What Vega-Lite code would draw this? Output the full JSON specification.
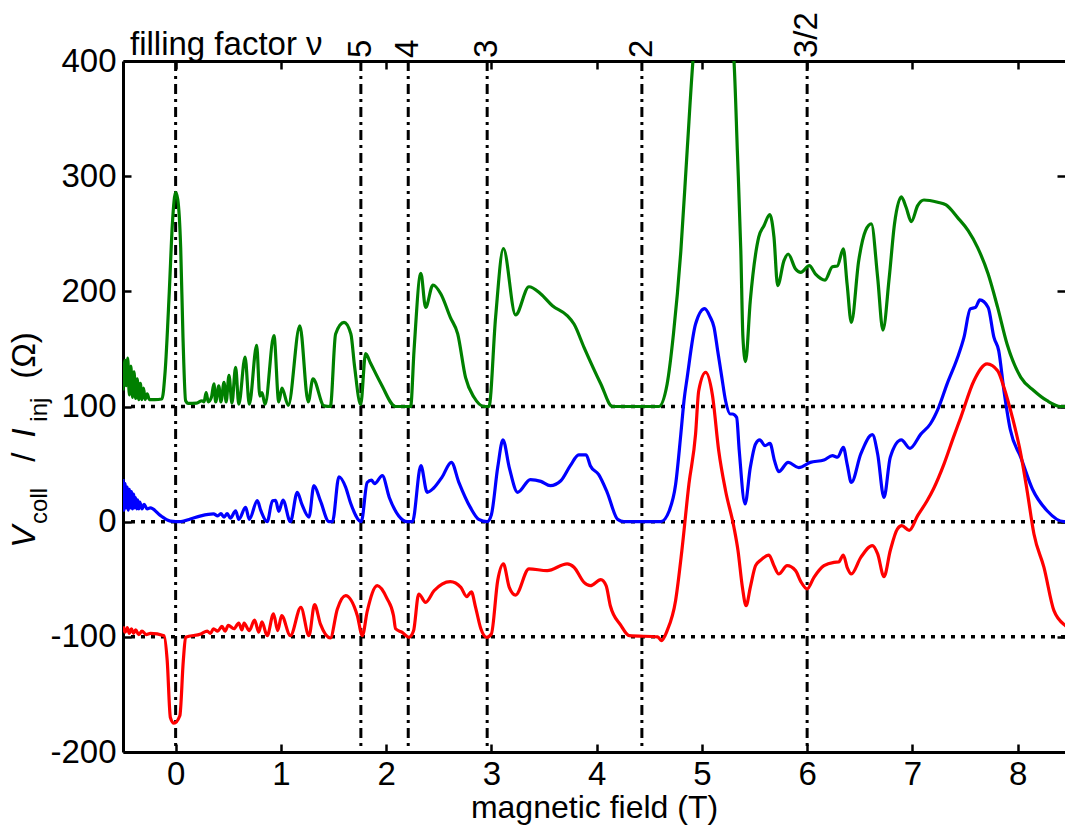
{
  "$schema": "https://vega.github.io/schema/vega-lite/v6.json",
  "width": 942,
  "height": 691,
  "autosize": {"type": "none"},
  "padding": {"left": 123, "top": 61, "right": 0, "bottom": 74},
  "background": "white",
  "config": {
    "view": {"stroke": null},
    "font": "Liberation Sans",
    "axis": {"grid": false, "domainColor": "black", "domainWidth": 3, "tickColor": "black", "tickWidth": 2.5, "tickSize": -8, "labelColor": "black", "labelFont": "Liberation Sans", "labelFontSize": 33, "titleFont": "Liberation Sans", "titleColor": "black", "titleFontWeight": "normal", "titleFontSize": 32}
  },
  "datasets": {
    "curves": [
      {"x": -0.50, "y": 114, "s": "g"}, {"x": -0.48, "y": 140, "s": "g"}, {"x": -0.47, "y": 118, "s": "g"}, {"x": -0.455, "y": 142, "s": "g"}, {"x": -0.44, "y": 110, "s": "g"}, {"x": -0.425, "y": 135, "s": "g"}, {"x": -0.41, "y": 108, "s": "g"}, {"x": -0.395, "y": 130, "s": "g"}, {"x": -0.38, "y": 107, "s": "g"}, {"x": -0.365, "y": 124, "s": "g"}, {"x": -0.35, "y": 106, "s": "g"}, {"x": -0.335, "y": 120, "s": "g"}, {"x": -0.32, "y": 106, "s": "g"}, {"x": -0.305, "y": 116, "s": "g"}, {"x": -0.29, "y": 106, "s": "g"}, {"x": -0.27, "y": 111, "s": "g"}, {"x": -0.25, "y": 106, "s": "g"}, {"x": -0.20, "y": 106, "s": "g"}, {"x": -0.13, "y": 106.5, "s": "g"}, {"x": -0.10, "y": 130, "s": "g"}, {"x": -0.06, "y": 200, "s": "g"}, {"x": -0.03, "y": 260, "s": "g"}, {"x": 0.0, "y": 286, "s": "g"}, {"x": 0.02, "y": 280, "s": "g"}, {"x": 0.048, "y": 238, "s": "g"}, {"x": 0.07, "y": 160, "s": "g"}, {"x": 0.095, "y": 105, "s": "g"}, {"x": 0.12, "y": 102.7, "s": "g"}, {"x": 0.2, "y": 103, "s": "g"}, {"x": 0.25, "y": 105, "s": "g"}, {"x": 0.27, "y": 104, "s": "g"}, {"x": 0.29, "y": 112, "s": "g"}, {"x": 0.31, "y": 104, "s": "g"}, {"x": 0.34, "y": 108, "s": "g"}, {"x": 0.364, "y": 119.6, "s": "g"}, {"x": 0.38, "y": 104, "s": "g"}, {"x": 0.41, "y": 118, "s": "g"}, {"x": 0.43, "y": 104, "s": "g"}, {"x": 0.46, "y": 121, "s": "g"}, {"x": 0.48, "y": 104, "s": "g"}, {"x": 0.507, "y": 127, "s": "g"}, {"x": 0.535, "y": 103, "s": "g"}, {"x": 0.57, "y": 134, "s": "g"}, {"x": 0.6, "y": 102, "s": "g"}, {"x": 0.66, "y": 143, "s": "g"}, {"x": 0.70, "y": 102, "s": "g"}, {"x": 0.77, "y": 153, "s": "g"}, {"x": 0.80, "y": 109, "s": "g"}, {"x": 0.82, "y": 112, "s": "g"}, {"x": 0.85, "y": 102, "s": "g"}, {"x": 0.934, "y": 161.5, "s": "g"}, {"x": 0.98, "y": 104, "s": "g"}, {"x": 1.01, "y": 116, "s": "g"}, {"x": 1.07, "y": 101, "s": "g"}, {"x": 1.18, "y": 170, "s": "g"}, {"x": 1.26, "y": 104, "s": "g"}, {"x": 1.305, "y": 124, "s": "g"}, {"x": 1.41, "y": 100.5, "s": "g"}, {"x": 1.47, "y": 100, "s": "g"}, {"x": 1.52, "y": 163, "s": "g"}, {"x": 1.60, "y": 173, "s": "g"}, {"x": 1.665, "y": 163, "s": "g"}, {"x": 1.70, "y": 135, "s": "g"}, {"x": 1.758, "y": 101.7, "s": "g"}, {"x": 1.805, "y": 146, "s": "g"}, {"x": 1.85, "y": 138, "s": "g"}, {"x": 1.95, "y": 120, "s": "g"}, {"x": 2.09, "y": 100, "s": "g"}, {"x": 2.233, "y": 100, "s": "g"}, {"x": 2.265, "y": 148.5, "s": "g"}, {"x": 2.33, "y": 215.6, "s": "g"}, {"x": 2.375, "y": 186, "s": "g"}, {"x": 2.445, "y": 205.5, "s": "g"}, {"x": 2.52, "y": 197.7, "s": "g"}, {"x": 2.61, "y": 177.4, "s": "g"}, {"x": 2.68, "y": 163, "s": "g"}, {"x": 2.755, "y": 125, "s": "g"}, {"x": 2.835, "y": 108, "s": "g"}, {"x": 2.93, "y": 100, "s": "g"}, {"x": 2.977, "y": 100, "s": "g"}, {"x": 3.04, "y": 177.4, "s": "g"}, {"x": 3.114, "y": 237, "s": "g"}, {"x": 3.23, "y": 179.5, "s": "g"}, {"x": 3.357, "y": 204, "s": "g"}, {"x": 3.47, "y": 197.7, "s": "g"}, {"x": 3.58, "y": 187.5, "s": "g"}, {"x": 3.72, "y": 178.9, "s": "g"}, {"x": 3.785, "y": 171.6, "s": "g"}, {"x": 3.88, "y": 151.4, "s": "g"}, {"x": 4.04, "y": 119.6, "s": "g"}, {"x": 4.15, "y": 100, "s": "g"}, {"x": 4.59, "y": 100, "s": "g"}, {"x": 4.67, "y": 119.6, "s": "g"}, {"x": 4.73, "y": 163, "s": "g"}, {"x": 4.8, "y": 235, "s": "g"}, {"x": 4.86, "y": 322, "s": "g"}, {"x": 4.915, "y": 400, "s": "g"}, {"x": 5.0, "y": 470, "s": "g"}, {"x": 5.2, "y": 480, "s": "g"}, {"x": 5.305, "y": 400, "s": "g"}, {"x": 5.337, "y": 322, "s": "g"}, {"x": 5.37, "y": 235, "s": "g"}, {"x": 5.39, "y": 160, "s": "g"}, {"x": 5.415, "y": 139, "s": "g"}, {"x": 5.46, "y": 192, "s": "g"}, {"x": 5.54, "y": 247, "s": "g"}, {"x": 5.59, "y": 257, "s": "g"}, {"x": 5.645, "y": 266.6, "s": "g"}, {"x": 5.685, "y": 247, "s": "g"}, {"x": 5.72, "y": 205, "s": "g"}, {"x": 5.78, "y": 226.6, "s": "g"}, {"x": 5.82, "y": 232.4, "s": "g"}, {"x": 5.89, "y": 219.4, "s": "g"}, {"x": 5.94, "y": 216.5, "s": "g"}, {"x": 6.02, "y": 222.3, "s": "g"}, {"x": 6.08, "y": 215, "s": "g"}, {"x": 6.17, "y": 209.8, "s": "g"}, {"x": 6.24, "y": 221.4, "s": "g"}, {"x": 6.287, "y": 222, "s": "g"}, {"x": 6.344, "y": 236.8, "s": "g"}, {"x": 6.38, "y": 206, "s": "g"}, {"x": 6.42, "y": 173, "s": "g"}, {"x": 6.49, "y": 226.6, "s": "g"}, {"x": 6.555, "y": 252.7, "s": "g"}, {"x": 6.61, "y": 258.5, "s": "g"}, {"x": 6.67, "y": 212, "s": "g"}, {"x": 6.72, "y": 166.4, "s": "g"}, {"x": 6.78, "y": 212, "s": "g"}, {"x": 6.83, "y": 258.5, "s": "g"}, {"x": 6.895, "y": 282, "s": "g"}, {"x": 6.94, "y": 273, "s": "g"}, {"x": 6.99, "y": 260.5, "s": "g"}, {"x": 7.05, "y": 274.4, "s": "g"}, {"x": 7.11, "y": 279.3, "s": "g"}, {"x": 7.24, "y": 277.3, "s": "g"}, {"x": 7.32, "y": 275, "s": "g"}, {"x": 7.43, "y": 264, "s": "g"}, {"x": 7.53, "y": 252.7, "s": "g"}, {"x": 7.62, "y": 238, "s": "g"}, {"x": 7.72, "y": 215, "s": "g"}, {"x": 7.81, "y": 186, "s": "g"}, {"x": 7.9, "y": 154, "s": "g"}, {"x": 8.03, "y": 125.3, "s": "g"}, {"x": 8.155, "y": 113.7, "s": "g"}, {"x": 8.28, "y": 105, "s": "g"}, {"x": 8.41, "y": 100, "s": "g"}, {"x": 8.5, "y": 100, "s": "g"},

      {"x": -0.50, "y": 37, "s": "b"}, {"x": -0.49, "y": 10, "s": "b"}, {"x": -0.48, "y": 33, "s": "b"}, {"x": -0.47, "y": 12, "s": "b"}, {"x": -0.46, "y": 30, "s": "b"}, {"x": -0.45, "y": 10, "s": "b"}, {"x": -0.44, "y": 28, "s": "b"}, {"x": -0.43, "y": 12, "s": "b"}, {"x": -0.42, "y": 26, "s": "b"}, {"x": -0.41, "y": 11, "s": "b"}, {"x": -0.40, "y": 24, "s": "b"}, {"x": -0.39, "y": 12, "s": "b"}, {"x": -0.38, "y": 21, "s": "b"}, {"x": -0.37, "y": 11, "s": "b"}, {"x": -0.36, "y": 19, "s": "b"}, {"x": -0.35, "y": 11, "s": "b"}, {"x": -0.34, "y": 17, "s": "b"}, {"x": -0.32, "y": 11, "s": "b"}, {"x": -0.30, "y": 15, "s": "b"}, {"x": -0.27, "y": 11, "s": "b"}, {"x": -0.24, "y": 12, "s": "b"}, {"x": -0.14, "y": 5, "s": "b"}, {"x": -0.05, "y": 0.5, "s": "b"}, {"x": 0.05, "y": 0, "s": "b"}, {"x": 0.14, "y": 2.3, "s": "b"}, {"x": 0.24, "y": 5, "s": "b"}, {"x": 0.36, "y": 6.7, "s": "b"}, {"x": 0.40, "y": 5, "s": "b"}, {"x": 0.43, "y": 7, "s": "b"}, {"x": 0.46, "y": 4, "s": "b"}, {"x": 0.49, "y": 7, "s": "b"}, {"x": 0.52, "y": 3, "s": "b"}, {"x": 0.57, "y": 9.5, "s": "b"}, {"x": 0.60, "y": 2, "s": "b"}, {"x": 0.665, "y": 12.4, "s": "b"}, {"x": 0.70, "y": 2, "s": "b"}, {"x": 0.776, "y": 18.2, "s": "b"}, {"x": 0.81, "y": 9.5, "s": "b"}, {"x": 0.87, "y": 0, "s": "b"}, {"x": 0.92, "y": 18.2, "s": "b"}, {"x": 0.95, "y": 18.5, "s": "b"}, {"x": 0.98, "y": 9, "s": "b"}, {"x": 1.02, "y": 18.8, "s": "b"}, {"x": 1.09, "y": 0, "s": "b"}, {"x": 1.156, "y": 25.5, "s": "b"}, {"x": 1.2, "y": 15, "s": "b"}, {"x": 1.267, "y": 4, "s": "b"}, {"x": 1.314, "y": 31.3, "s": "b"}, {"x": 1.376, "y": 18, "s": "b"}, {"x": 1.457, "y": 0, "s": "b"}, {"x": 1.49, "y": 0, "s": "b"}, {"x": 1.552, "y": 39, "s": "b"}, {"x": 1.615, "y": 30, "s": "b"}, {"x": 1.663, "y": 16, "s": "b"}, {"x": 1.764, "y": 0, "s": "b"}, {"x": 1.82, "y": 34, "s": "b"}, {"x": 1.86, "y": 36, "s": "b"}, {"x": 1.89, "y": 33, "s": "b"}, {"x": 1.964, "y": 40, "s": "b"}, {"x": 2.03, "y": 21, "s": "b"}, {"x": 2.12, "y": 5, "s": "b"}, {"x": 2.2, "y": 0, "s": "b"}, {"x": 2.25, "y": 0, "s": "b"}, {"x": 2.33, "y": 48.6, "s": "b"}, {"x": 2.39, "y": 25.5, "s": "b"}, {"x": 2.45, "y": 29, "s": "b"}, {"x": 2.53, "y": 38.5, "s": "b"}, {"x": 2.62, "y": 51.5, "s": "b"}, {"x": 2.69, "y": 34.4, "s": "b"}, {"x": 2.8, "y": 12.4, "s": "b"}, {"x": 2.88, "y": 2, "s": "b"}, {"x": 2.96, "y": 0, "s": "b"}, {"x": 3.0, "y": 6, "s": "b"}, {"x": 3.06, "y": 47, "s": "b"}, {"x": 3.11, "y": 71, "s": "b"}, {"x": 3.17, "y": 47, "s": "b"}, {"x": 3.25, "y": 25.5, "s": "b"}, {"x": 3.37, "y": 36.5, "s": "b"}, {"x": 3.47, "y": 35, "s": "b"}, {"x": 3.56, "y": 31.3, "s": "b"}, {"x": 3.66, "y": 35.5, "s": "b"}, {"x": 3.75, "y": 48.6, "s": "b"}, {"x": 3.83, "y": 58, "s": "b"}, {"x": 3.9, "y": 58, "s": "b"}, {"x": 3.94, "y": 48.6, "s": "b"}, {"x": 4.02, "y": 40.8, "s": "b"}, {"x": 4.1, "y": 25.5, "s": "b"}, {"x": 4.2, "y": 2, "s": "b"}, {"x": 4.26, "y": 0, "s": "b"}, {"x": 4.61, "y": 0, "s": "b"}, {"x": 4.69, "y": 9.5, "s": "b"}, {"x": 4.75, "y": 32, "s": "b"}, {"x": 4.8, "y": 76, "s": "b"}, {"x": 4.83, "y": 105, "s": "b"}, {"x": 4.86, "y": 125, "s": "b"}, {"x": 4.94, "y": 171.6, "s": "b"}, {"x": 5.026, "y": 185, "s": "b"}, {"x": 5.08, "y": 177.5, "s": "b"}, {"x": 5.115, "y": 169, "s": "b"}, {"x": 5.15, "y": 148.5, "s": "b"}, {"x": 5.19, "y": 125, "s": "b"}, {"x": 5.225, "y": 105, "s": "b"}, {"x": 5.27, "y": 93.5, "s": "b"}, {"x": 5.29, "y": 93.5, "s": "b"}, {"x": 5.33, "y": 90.6, "s": "b"}, {"x": 5.355, "y": 61.6, "s": "b"}, {"x": 5.41, "y": 15.4, "s": "b"}, {"x": 5.46, "y": 47, "s": "b"}, {"x": 5.51, "y": 67.5, "s": "b"}, {"x": 5.55, "y": 71, "s": "b"}, {"x": 5.6, "y": 66, "s": "b"}, {"x": 5.647, "y": 68, "s": "b"}, {"x": 5.69, "y": 53, "s": "b"}, {"x": 5.73, "y": 43.4, "s": "b"}, {"x": 5.82, "y": 51.5, "s": "b"}, {"x": 5.92, "y": 47, "s": "b"}, {"x": 6.03, "y": 51.5, "s": "b"}, {"x": 6.16, "y": 53.6, "s": "b"}, {"x": 6.24, "y": 57.3, "s": "b"}, {"x": 6.29, "y": 56, "s": "b"}, {"x": 6.344, "y": 64.5, "s": "b"}, {"x": 6.38, "y": 50, "s": "b"}, {"x": 6.42, "y": 34, "s": "b"}, {"x": 6.51, "y": 58.8, "s": "b"}, {"x": 6.62, "y": 75.5, "s": "b"}, {"x": 6.67, "y": 58.8, "s": "b"}, {"x": 6.73, "y": 21, "s": "b"}, {"x": 6.79, "y": 56, "s": "b"}, {"x": 6.895, "y": 71, "s": "b"}, {"x": 6.977, "y": 63.7, "s": "b"}, {"x": 7.08, "y": 76, "s": "b"}, {"x": 7.17, "y": 84.8, "s": "b"}, {"x": 7.25, "y": 99.3, "s": "b"}, {"x": 7.33, "y": 119.6, "s": "b"}, {"x": 7.43, "y": 142.7, "s": "b"}, {"x": 7.49, "y": 160, "s": "b"}, {"x": 7.55, "y": 184.7, "s": "b"}, {"x": 7.6, "y": 186, "s": "b"}, {"x": 7.64, "y": 192.5, "s": "b"}, {"x": 7.72, "y": 186, "s": "b"}, {"x": 7.775, "y": 160, "s": "b"}, {"x": 7.82, "y": 148.5, "s": "b"}, {"x": 7.87, "y": 113.7, "s": "b"}, {"x": 7.93, "y": 80, "s": "b"}, {"x": 8.03, "y": 55.8, "s": "b"}, {"x": 8.14, "y": 28.4, "s": "b"}, {"x": 8.28, "y": 9.5, "s": "b"}, {"x": 8.44, "y": 0, "s": "b"}, {"x": 8.5, "y": 0, "s": "b"},

      {"x": -0.50, "y": -91, "s": "r"}, {"x": -0.48, "y": -96, "s": "r"}, {"x": -0.46, "y": -92, "s": "r"}, {"x": -0.44, "y": -97, "s": "r"}, {"x": -0.42, "y": -93, "s": "r"}, {"x": -0.40, "y": -97, "s": "r"}, {"x": -0.38, "y": -94, "s": "r"}, {"x": -0.35, "y": -98, "s": "r"}, {"x": -0.32, "y": -95, "s": "r"}, {"x": -0.28, "y": -98, "s": "r"}, {"x": -0.24, "y": -97, "s": "r"}, {"x": -0.11, "y": -99, "s": "r"}, {"x": -0.08, "y": -120.7, "s": "r"}, {"x": -0.05, "y": -170, "s": "r"}, {"x": -0.016, "y": -175, "s": "r"}, {"x": 0.04, "y": -168.5, "s": "r"}, {"x": 0.073, "y": -120.7, "s": "r"}, {"x": 0.095, "y": -100.4, "s": "r"}, {"x": 0.24, "y": -97.5, "s": "r"}, {"x": 0.30, "y": -95, "s": "r"}, {"x": 0.33, "y": -97, "s": "r"}, {"x": 0.36, "y": -93, "s": "r"}, {"x": 0.40, "y": -95, "s": "r"}, {"x": 0.44, "y": -91, "s": "r"}, {"x": 0.47, "y": -95, "s": "r"}, {"x": 0.50, "y": -90, "s": "r"}, {"x": 0.554, "y": -93, "s": "r"}, {"x": 0.60, "y": -88, "s": "r"}, {"x": 0.63, "y": -94, "s": "r"}, {"x": 0.65, "y": -88, "s": "r"}, {"x": 0.70, "y": -94.6, "s": "r"}, {"x": 0.75, "y": -85.4, "s": "r"}, {"x": 0.79, "y": -96, "s": "r"}, {"x": 0.82, "y": -87, "s": "r"}, {"x": 0.87, "y": -99, "s": "r"}, {"x": 0.93, "y": -80, "s": "r"}, {"x": 0.97, "y": -94.6, "s": "r"}, {"x": 1.007, "y": -81.5, "s": "r"}, {"x": 1.09, "y": -99, "s": "r"}, {"x": 1.19, "y": -74.4, "s": "r"}, {"x": 1.267, "y": -99, "s": "r"}, {"x": 1.32, "y": -72, "s": "r"}, {"x": 1.376, "y": -89, "s": "r"}, {"x": 1.47, "y": -101, "s": "r"}, {"x": 1.536, "y": -76, "s": "r"}, {"x": 1.615, "y": -64.2, "s": "r"}, {"x": 1.726, "y": -81.5, "s": "r"}, {"x": 1.774, "y": -99, "s": "r"}, {"x": 1.82, "y": -78, "s": "r"}, {"x": 1.916, "y": -55.6, "s": "r"}, {"x": 2.01, "y": -67, "s": "r"}, {"x": 2.07, "y": -81.5, "s": "r"}, {"x": 2.09, "y": -93, "s": "r"}, {"x": 2.15, "y": -96, "s": "r"}, {"x": 2.217, "y": -100.4, "s": "r"}, {"x": 2.26, "y": -95, "s": "r"}, {"x": 2.31, "y": -62.8, "s": "r"}, {"x": 2.375, "y": -70, "s": "r"}, {"x": 2.455, "y": -60, "s": "r"}, {"x": 2.61, "y": -52, "s": "r"}, {"x": 2.71, "y": -57, "s": "r"}, {"x": 2.765, "y": -65, "s": "r"}, {"x": 2.81, "y": -61, "s": "r"}, {"x": 2.85, "y": -74.4, "s": "r"}, {"x": 2.9, "y": -93, "s": "r"}, {"x": 2.955, "y": -100.4, "s": "r"}, {"x": 3.0, "y": -97.5, "s": "r"}, {"x": 3.06, "y": -51.2, "s": "r"}, {"x": 3.114, "y": -36.7, "s": "r"}, {"x": 3.17, "y": -57, "s": "r"}, {"x": 3.23, "y": -63.7, "s": "r"}, {"x": 3.357, "y": -41, "s": "r"}, {"x": 3.53, "y": -42.5, "s": "r"}, {"x": 3.72, "y": -36.7, "s": "r"}, {"x": 3.785, "y": -39.6, "s": "r"}, {"x": 3.88, "y": -52.7, "s": "r"}, {"x": 3.94, "y": -55.6, "s": "r"}, {"x": 4.04, "y": -50.4, "s": "r"}, {"x": 4.09, "y": -55.6, "s": "r"}, {"x": 4.13, "y": -73, "s": "r"}, {"x": 4.23, "y": -90, "s": "r"}, {"x": 4.31, "y": -99, "s": "r"}, {"x": 4.58, "y": -100, "s": "r"}, {"x": 4.615, "y": -103.3, "s": "r"}, {"x": 4.67, "y": -94.6, "s": "r"}, {"x": 4.75, "y": -68.6, "s": "r"}, {"x": 4.81, "y": -25, "s": "r"}, {"x": 4.877, "y": 32.7, "s": "r"}, {"x": 4.94, "y": 76, "s": "r"}, {"x": 4.97, "y": 113.7, "s": "r"}, {"x": 5.036, "y": 129.6, "s": "r"}, {"x": 5.1, "y": 110, "s": "r"}, {"x": 5.16, "y": 61.6, "s": "r"}, {"x": 5.225, "y": 26.9, "s": "r"}, {"x": 5.305, "y": -5, "s": "r"}, {"x": 5.343, "y": -25, "s": "r"}, {"x": 5.385, "y": -57, "s": "r"}, {"x": 5.42, "y": -73, "s": "r"}, {"x": 5.46, "y": -57, "s": "r"}, {"x": 5.51, "y": -38.2, "s": "r"}, {"x": 5.56, "y": -33.3, "s": "r"}, {"x": 5.637, "y": -29, "s": "r"}, {"x": 5.685, "y": -38.2, "s": "r"}, {"x": 5.73, "y": -45.4, "s": "r"}, {"x": 5.81, "y": -38.2, "s": "r"}, {"x": 5.89, "y": -42.5, "s": "r"}, {"x": 5.94, "y": -52, "s": "r"}, {"x": 6.0, "y": -58.4, "s": "r"}, {"x": 6.065, "y": -48.3, "s": "r"}, {"x": 6.16, "y": -38.2, "s": "r"}, {"x": 6.255, "y": -35.3, "s": "r"}, {"x": 6.3, "y": -35, "s": "r"}, {"x": 6.344, "y": -29, "s": "r"}, {"x": 6.38, "y": -39.6, "s": "r"}, {"x": 6.42, "y": -45.4, "s": "r"}, {"x": 6.51, "y": -31, "s": "r"}, {"x": 6.62, "y": -20.8, "s": "r"}, {"x": 6.67, "y": -28, "s": "r"}, {"x": 6.73, "y": -47.7, "s": "r"}, {"x": 6.79, "y": -25, "s": "r"}, {"x": 6.857, "y": -6.4, "s": "r"}, {"x": 6.9, "y": -3.5, "s": "r"}, {"x": 6.97, "y": -7.5, "s": "r"}, {"x": 7.05, "y": 5.2, "s": "r"}, {"x": 7.14, "y": 18.2, "s": "r"}, {"x": 7.2, "y": 28.4, "s": "r"}, {"x": 7.3, "y": 50, "s": "r"}, {"x": 7.39, "y": 73.2, "s": "r"}, {"x": 7.46, "y": 90.6, "s": "r"}, {"x": 7.585, "y": 122.4, "s": "r"}, {"x": 7.71, "y": 137, "s": "r"}, {"x": 7.81, "y": 131, "s": "r"}, {"x": 7.87, "y": 116.6, "s": "r"}, {"x": 7.95, "y": 90.6, "s": "r"}, {"x": 8.03, "y": 58.8, "s": "r"}, {"x": 8.09, "y": 26.9, "s": "r"}, {"x": 8.155, "y": -10.7, "s": "r"}, {"x": 8.25, "y": -39.7, "s": "r"}, {"x": 8.345, "y": -77.3, "s": "r"}, {"x": 8.455, "y": -90.3, "s": "r"}, {"x": 8.5, "y": -93, "s": "r"}
    ],
    "vlines": [{"x": 0}, {"x": 1.76}, {"x": 2.21}, {"x": 2.96}, {"x": 4.43}, {"x": 6.0}],
    "hlines": [{"y": 100}, {"y": 0}, {"y": -100}],
    "nu": [{"x": 1.76, "t": "5"}, {"x": 2.21, "t": "4"}, {"x": 2.96, "t": "3"}, {"x": 4.43, "t": "2"}, {"x": 6.0, "t": "3/2"}],
    "one": [{}]
  },
  "resolve": {"axis": {"x": "independent", "y": "independent"}},
  "layer": [
    {
      "data": {"name": "vlines"},
      "mark": {"type": "rule", "color": "black", "strokeWidth": 3, "strokeDash": [10, 5, 3, 5]},
      "encoding": {
        "x": {"field": "x", "type": "quantitative", "scale": {"domain": [-0.5, 8.45], "nice": false, "zero": false},
              "axis": {"orient": "bottom", "values": [0, 1, 2, 3, 4, 5, 6, 7, 8], "title": "magnetic field (T)", "labelPadding": 14, "titlePadding": 1}}
      }
    },
    {
      "data": {"name": "hlines"},
      "mark": {"type": "rule", "color": "black", "strokeWidth": 3.5, "strokeDash": [4, 6]},
      "encoding": {
        "y": {"field": "y", "type": "quantitative", "scale": {"domain": [-200, 400], "nice": false, "zero": false},
              "axis": {"orient": "left", "values": [-200, -100, 0, 100, 200, 300, 400], "title": null, "labelPadding": 15,
                       "labelExpr": "datum.value < 0 ? '-' + (-datum.value) : '' + datum.value"}}
      }
    },
    {
      "data": {"name": "curves"},
      "mark": {"type": "line", "strokeWidth": 3.2, "clip": true, "interpolate": "monotone"},
      "encoding": {
        "x": {"field": "x", "type": "quantitative", "axis": {"orient": "top", "values": [0, 1, 2, 3, 4, 5, 6, 7, 8], "labels": false, "title": null}},
        "y": {"field": "y", "type": "quantitative", "axis": {"orient": "right", "values": [-200, -100, 0, 100, 200, 300, 400], "labels": false, "domain": false, "title": null}},
        "color": {"field": "s", "type": "nominal", "scale": {"domain": ["g", "b", "r"], "range": ["#008000", "#0000ff", "#ff0000"]}, "legend": null}
      }
    },
    {
      "data": {"name": "nu"},
      "mark": {"type": "text", "angle": 270, "align": "left", "baseline": "middle", "fontSize": 33, "dx": 3, "color": "black"},
      "encoding": {
        "x": {"field": "x", "type": "quantitative", "axis": null},
        "y": {"datum": 400, "axis": null},
        "text": {"field": "t"}
      }
    },
    {
      "data": {"name": "one"},
      "mark": {"type": "text", "align": "left", "baseline": "alphabetic", "fontSize": 33, "dx": 7, "dy": -6, "color": "black", "text": "filling factor ν"},
      "encoding": {"x": {"datum": -0.5, "axis": null}, "y": {"datum": 400, "axis": null}}
    },
    {
      "data": {"name": "one"},
      "mark": {"type": "text", "angle": 270, "align": "left", "baseline": "alphabetic", "fontSize": 33, "fontStyle": "italic", "dy": -88, "color": "black", "text": "V"},
      "encoding": {"x": {"datum": -0.5, "axis": null}, "y": {"datum": -22.6, "axis": null}}
    },
    {
      "data": {"name": "one"},
      "mark": {"type": "text", "angle": 270, "align": "left", "baseline": "alphabetic", "fontSize": 24, "dy": -76, "color": "black", "text": "coll"},
      "encoding": {"x": {"datum": -0.5, "axis": null}, "y": {"datum": -2, "axis": null}}
    },
    {
      "data": {"name": "one"},
      "mark": {"type": "text", "angle": 270, "align": "left", "baseline": "alphabetic", "fontSize": 33, "dy": -88, "color": "black", "text": "/"},
      "encoding": {"x": {"datum": -0.5, "axis": null}, "y": {"datum": 52, "axis": null}}
    },
    {
      "data": {"name": "one"},
      "mark": {"type": "text", "angle": 270, "align": "left", "baseline": "alphabetic", "fontSize": 33, "fontStyle": "italic", "dy": -88, "color": "black", "text": "I"},
      "encoding": {"x": {"datum": -0.5, "axis": null}, "y": {"datum": 73, "axis": null}}
    },
    {
      "data": {"name": "one"},
      "mark": {"type": "text", "angle": 270, "align": "left", "baseline": "alphabetic", "fontSize": 24, "dy": -76, "color": "black", "text": "inj"},
      "encoding": {"x": {"datum": -0.5, "axis": null}, "y": {"datum": 86.8, "axis": null}}
    },
    {
      "data": {"name": "one"},
      "mark": {"type": "text", "angle": 270, "align": "left", "baseline": "alphabetic", "fontSize": 33, "dy": -88, "color": "black", "text": "(Ω)"},
      "encoding": {"x": {"datum": -0.5, "axis": null}, "y": {"datum": 124, "axis": null}}
    }
  ]
}
